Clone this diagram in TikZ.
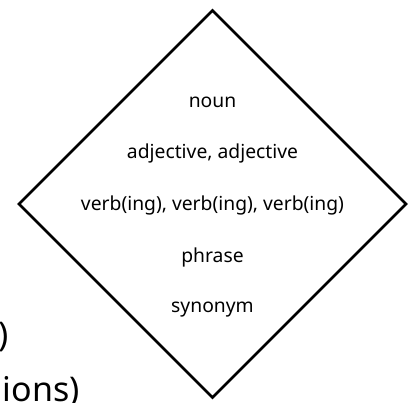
\documentclass[tikz,border=0pt]{standalone}
\usepackage{fontspec}
\setmainfont{Noto Sans}
\usetikzlibrary{shapes.geometric}

\begin{document}
\begin{tikzpicture}[x=1pt,y=1pt]
        \useasboundingbox (0,0) rectangle (409,-402);
        \node[draw, diamond, line width=2.6pt, minimum width=388pt, minimum height=388pt, inner sep=0pt] (D) at (212.5,-204) {};
        \node[font=\fontsize{19.3}{22}\selectfont] (A) at (212.5,-102) {noun};
        \node[font=\fontsize{19.3}{22}\selectfont] (B) at (212.5,-153) {adjective, adjective};
        \node[font=\fontsize{19.3}{22}\selectfont] (C) at (212.5,-205) {verb(ing), verb(ing), verb(ing)};
        \node[font=\fontsize{19.3}{22}\selectfont] (E) at (212.5,-257) {phrase};
        \node[font=\fontsize{19.3}{22}\selectfont] (F) at (212.5,-310) {synonym};
        \node[font=\fontsize{34}{38}\selectfont, anchor=base east, inner sep=0pt] (G) at (9,-346) {)};
        \node[font=\fontsize{34}{38}\selectfont, anchor=base east, inner sep=0pt] (H) at (80,-401) {ions)};
    \end{tikzpicture}
\end{document}
